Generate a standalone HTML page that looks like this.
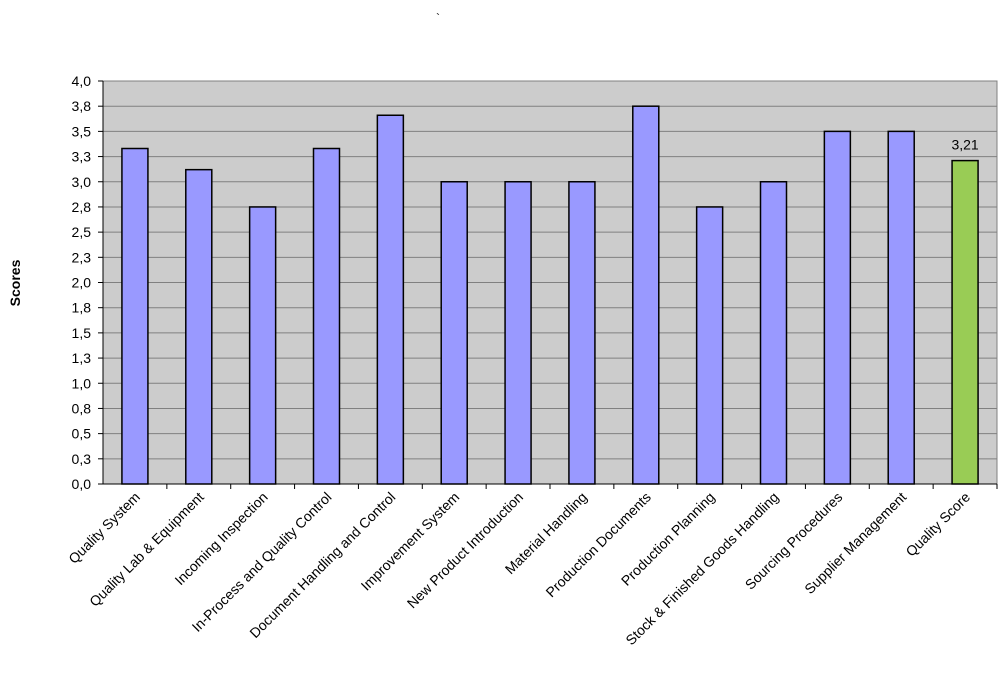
<!DOCTYPE html>
<html><head><meta charset="utf-8"><style>
body{margin:0;background:#fff;font-family:"Liberation Sans",Arial,sans-serif}
svg text{font-family:"Liberation Sans",Arial,sans-serif}
</style></head><body>
<svg id="chart" width="1000" height="676" xmlns="http://www.w3.org/2000/svg">
<text x="436" y="22" font-size="12" fill="#000">`</text>
<rect x="103" y="81" width="894" height="403" fill="#cccccc" stroke="#808080" stroke-width="1"/>
<g id="grid"></g><g id="bars"></g><g id="axes"></g>
<text transform="translate(20,283) rotate(-90)" text-anchor="middle" font-size="14" font-weight="bold">Scores</text>
</svg>
<script>
const categories=["Quality System","Quality Lab & Equipment","Incoming Inspection","In-Process and Quality Control","Document Handling and Control","Improvement System","New Product Introduction","Material Handling","Production Documents","Production Planning","Stock & Finished Goods Handling","Sourcing Procedures","Supplier Management","Quality Score"];
const values=[3.33,3.12,2.75,3.33,3.66,3.0,3.0,3.0,3.75,2.75,3.0,3.5,3.5,3.21];
const tickValues=[0,0.25,0.5,0.75,1,1.25,1.5,1.75,2,2.25,2.5,2.75,3,3.25,3.5,3.75,4];
const tickLabels=["0,0","0,3","0,5","0,8","1,0","1,3","1,5","1,8","2,0","2,3","2,5","2,8","3,0","3,3","3,5","3,8","4,0"];
const valueLabels=[null,null,null,null,null,null,null,null,null,null,null,null,null,"3,21"];
const NS="http://www.w3.org/2000/svg";
const L=103,R=997,T=81,B=484;
const y=v=>B-(v/4)*(B-T);
const bw=(R-L)/categories.length;
const xc=i=>L+bw*(i+0.5);
function mk(tag,attrs,parent){const e=document.createElementNS(NS,tag);for(const k in attrs)e.setAttribute(k,attrs[k]);parent.appendChild(e);return e;}
const grid=document.getElementById('grid'),bars=document.getElementById('bars'),axes=document.getElementById('axes');
tickValues.forEach((v,i)=>{
  if(v>0&&v<4){const g=mk('line',{x1:L,x2:R,y1:y(v),y2:y(v),stroke:'#808080','stroke-width':1},grid);
  
  }
  const t=mk('line',{x1:L-5,x2:L,y1:y(v),y2:y(v),stroke:'#000'},axes);
  
  
  const tx=mk('text',{x:L-12,y:y(v)+5,'text-anchor':'end','font-size':14},axes);
  tx.textContent=tickLabels[i];
  
  
});
const ax=mk('line',{x1:L,x2:L,y1:T,y2:B,stroke:'#000'},axes);


const xa=mk('line',{x1:L,x2:R,y1:B,y2:B,stroke:'#000'},axes);


categories.forEach((c,i)=>{
  const w=26;
  const last=i===categories.length-1;
  const r=mk('rect',{x:xc(i)-w/2,y:y(values[i]),width:w,height:B-y(values[i]),fill:last?'#99cc55':'#9999ff',stroke:'#000','stroke-width':1.5},bars);
  
  
  const tk=mk('line',{x1:L+bw*(i+1),x2:L+bw*(i+1),y1:B,y2:B+5,stroke:'#000'},axes);
  
  
  const t=mk('text',{transform:`translate(${xc(i)+6},${B+14}) rotate(-45)`,'text-anchor':'end','font-size':14},axes);
  t.textContent=c;
  
  
  if(valueLabels[i]){const vl=mk('text',{x:xc(i),y:y(values[i])-11,'text-anchor':'middle','font-size':14},bars);
  vl.textContent=valueLabels[i];
  
  }
});
</script>
</body></html>
